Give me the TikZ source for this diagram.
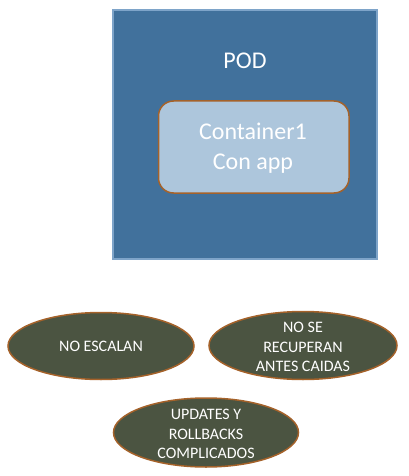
\documentclass[tikz,border=0pt]{standalone}
\usepackage{fontspec}
\setmainfont{Carlito}
\usetikzlibrary{shapes.geometric}
\definecolor{podfill}{HTML}{41719C}
\definecolor{podline}{HTML}{7EA4C9}
\definecolor{contfill}{HTML}{ADC6DC}
\definecolor{brownline}{HTML}{A5622A}
\definecolor{ovalfill}{HTML}{4B5441}
\tikzset{
  podbox/.style={draw=podline, line width=2pt, fill=podfill},
  contbox/.style={draw=brownline, line width=1.5pt, fill=contfill, rounded corners=15pt},
  oval/.style={ellipse, draw=brownline, line width=1.5pt, fill=ovalfill, inner sep=0pt},
  bigtext/.style={text=white, font=\fontsize{24}{30}\selectfont, align=center, inner sep=0pt},
  ovaltext/.style={text=white, font=\fontsize{16}{19.6}\selectfont, align=center, inner sep=0pt}
}
\begin{document}
\begin{tikzpicture}[x=1pt,y=-1pt]
\useasboundingbox (0,0) rectangle (409,476);
\draw[podbox] (113,10) rectangle (377,259);
\node[bigtext] (pod) at (245,60.5) {POD};
\draw[contbox] (158.5,101) rectangle (349,193);
\node[bigtext] (cont) at (253,148) {Container1\\Con app};
\node[oval, minimum width=186pt, minimum height=67pt] (e1) at (101,346) {};
\node[ovaltext] (t1) at (e1) {NO ESCALAN};
\node[oval, minimum width=188pt, minimum height=68pt] (e2) at (303,345.5) {};
\node[ovaltext] (t2) at (303,347) {NO SE\\RECUPERAN\\ANTES CAIDAS};
\node[oval, minimum width=185pt, minimum height=69pt] (e3) at (206,432.5) {};
\node[ovaltext] (t3) at (206,434) {UPDATES Y\\ROLLBACKS\\COMPLICADOS};
\end{tikzpicture}
\end{document}
